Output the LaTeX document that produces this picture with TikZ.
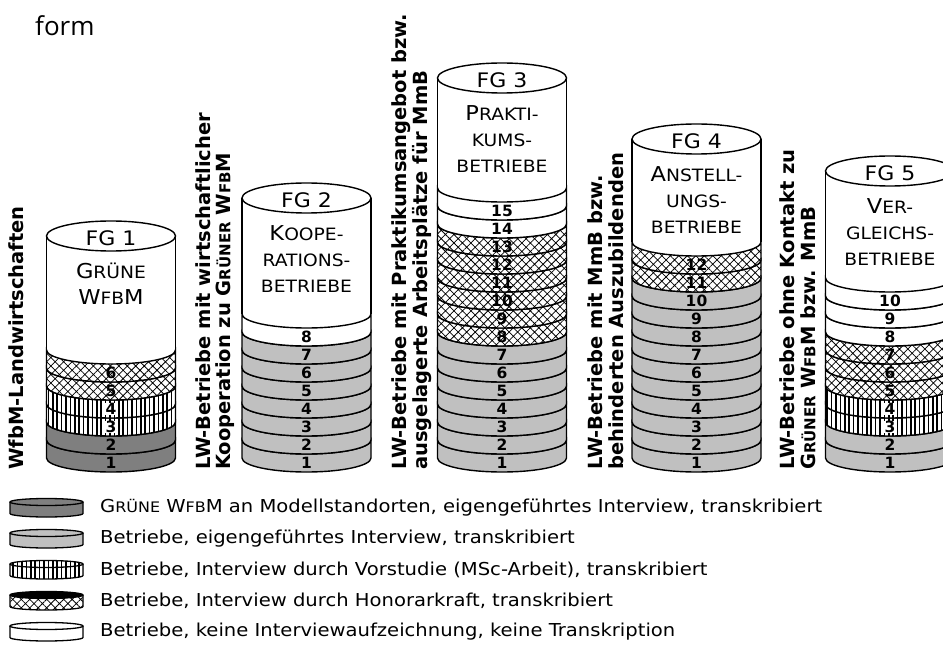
\documentclass[tikz,border=0pt]{standalone}
\usepackage{fontspec}
\setmainfont{DejaVu Sans}[FakeStretch=1.1]
\newfontfamily\labelfont{DejaVu Sans}
\newfontfamily\pagefont{Open Sans}
\usetikzlibrary{patterns.meta}

\definecolor{darkfill}{HTML}{7F7F7F}
\definecolor{lightfill}{HTML}{C0C0C0}

% small capitals imitated by a smaller size
\newcommand\sm[2]{{\fontsize{#1}{#1}\selectfont #2}}

% geometry of the stacks: half width, bottom ellipse centre, slice height, ellipse radii
\def\rx{64.5}\def\yb{458}\def\sh{18}\def\sr{14}\def\ryt{15}
\def\vlinesname{sv}

\tikzset{
  edge/.style={draw=black,line width=1.4pt},
  sd/.style={fill=darkfill},
  sl/.style={fill=lightfill},
  sv/.style={preaction={fill=white},pattern={Lines[angle=90,distance=4.4pt,line width=1.5pt]}},
  sx/.style={preaction={fill=white},pattern={Hatch[angle=45,distance=6pt,line width=0.75pt]}},
  sw/.style={fill=white},
  num/.style={font=\labelfont\bfseries\fontsize{15.5}{15.5}\selectfont,inner sep=0.6pt},
  fgtext/.style={font=\fontsize{20}{20}\selectfont,inner sep=0,anchor=base},
  ttl/.style={font=\fontsize{20.5}{20.5}\selectfont,inner sep=0,anchor=base},
  vlab/.style={rotate=90,anchor=west,inner sep=0,font=\labelfont\bfseries\fontsize{19.5}{19.5}\selectfont},
  legtext/.style={anchor=west,inner sep=0,font=\fontsize{17.8}{17.8}\selectfont},
}

% #1 name, #2 centre x, #3 top ellipse y, #4 slice count,
% #5 slice styles from bottom to top, #6 group label, #7 caption lines
\newcommand\stack[7]{%
  \pgfmathsetmacro\ytop{\yb-#4*\sh}
  \path[fill=white] (#2-\rx,\ytop) -- (#2-\rx,#3)
     arc[start angle=180,end angle=360,x radius=\rx,y radius=\ryt]
     -- (#2+\rx,\ytop)
     arc[start angle=0,end angle=180,x radius=\rx,y radius=\sr] -- cycle;
  \draw[edge] (#2-\rx,\ytop) -- (#2-\rx,#3) (#2+\rx,\ytop) -- (#2+\rx,#3);
  \draw[edge] (#2,#3) ellipse[x radius=\rx,y radius=\ryt];
  \foreach \st [count=\k] in {#5} {
    \pgfmathsetmacro\ylo{\yb-(\k-1)*\sh}
    \pgfmathsetmacro\yhi{\yb-\k*\sh}
    \path[\st] (#2-\rx,\ylo)
       arc[start angle=180,end angle=0,x radius=\rx,y radius=\sr]
       -- (#2+\rx,\yhi)
       arc[start angle=0,end angle=180,x radius=\rx,y radius=\sr] -- cycle;
    \draw[edge] (#2-\rx,\ylo)
       arc[start angle=180,end angle=0,x radius=\rx,y radius=\sr]
       -- (#2+\rx,\yhi)
       arc[start angle=0,end angle=180,x radius=\rx,y radius=\sr] -- cycle;
    \edef\cur{\st}%
    \ifx\cur\vlinesname
      \node[num,fill=white] (#1-n\k) at (#2,{\yhi+\sr+\sh/2}) {\k};
    \else
      \node[num] (#1-n\k) at (#2,{\yhi+\sr+\sh/2}) {\k};
    \fi
  }
  \node[fgtext] (#1-fg) at (#2,#3+10) {#6};
  \foreach \ln [count=\j] in {#7} {
    \node[ttl] (#1-t\j) at (#2,{#3+16.5+26*\j}) {\ln};
  }
}

% #1 name, #2 row y, #3 style
\newcommand\legendicon[3]{%
  \path[#3] (10,#2-6) -- (10,#2+5.5)
     arc[start angle=180,end angle=0,x radius=36.5,y radius=3.5]
     -- (83,#2-6)
     arc[start angle=0,end angle=-180,x radius=36.5,y radius=3.5] -- cycle;
  \draw[edge,line width=1.3pt] (10,#2-6) -- (10,#2+5.5)
     arc[start angle=180,end angle=0,x radius=36.5,y radius=3.5]
     -- (83,#2-6);
  \draw[edge,line width=1.3pt] (46.5,#2-6) ellipse[x radius=36.5,y radius=3.5];
  \coordinate (#1) at (46.5,#2);
}

\begin{document}
\begin{tikzpicture}[x=1pt,y=-1pt]
  \useasboundingbox (0,0) rectangle (943,663);
  \clip (0,0) rectangle (943,663);

  \node[anchor=base west,inner sep=0,font=\pagefont\fontsize{26}{26}\selectfont] (word) at (35,36) {form};

  % group labels
  \node[vlab] (g1)  at (16,470)  {WfbM-Landwirtschaften};
  \node[vlab] (g2a) at (203,470) {LW-Betriebe mit wirtschaftlicher};
  \node[vlab] (g2b) at (225,470) {Kooperation zu G\sm{15}{RÜNER} W\sm{15}{FB}M};
  \node[vlab] (g3a) at (401,470) {LW-Betriebe mit Praktikumsangebot bzw.};
  \node[vlab] (g3b) at (422,470) {ausgelagerte Arbeitsplätze für MmB};
  \node[vlab] (g4a) at (595,470) {LW-Betriebe mit MmB bzw.};
  \node[vlab] (g4b) at (616,470) {behinderten Auszubildenden};
  \node[vlab] (g5a) at (787,470) {LW-Betriebe ohne Kontakt zu};
  \node[vlab] (g5b) at (808,470) {G\sm{15}{RÜNER} W\sm{15}{FB}M bzw. MmB};

  % stacks
  \stack{fg1}{111}{236}{6}{sd,sd,sv,sv,sx,sx}{FG 1}{G\sm{17}{RÜNE},W\sm{17}{FB}M}
  \stack{fg2}{306.5}{198}{8}{sl,sl,sl,sl,sl,sl,sl,sw}{FG 2}{K\sm{17}{OOPE-},\sm{17}{RATIONS-},\sm{17}{BETRIEBE}}
  \stack{fg3}{502}{78}{15}{sl,sl,sl,sl,sl,sl,sl,sx,sx,sx,sx,sx,sx,sw,sw}{FG 3}{P\sm{17}{RAKTI-},\sm{17}{KUMS-},\sm{17}{BETRIEBE}}
  \stack{fg4}{696.5}{139}{12}{sl,sl,sl,sl,sl,sl,sl,sl,sl,sl,sx,sx}{FG 4}{A\sm{17}{NSTELL-},\sm{17}{UNGS-},\sm{17}{BETRIEBE}}
  \stack{fg5}{890}{171}{10}{sl,sl,sv,sv,sx,sx,sx,sw,sw,sw}{FG 5}{V\sm{17}{ER-},\sm{17}{GLEICHS-},\sm{17}{BETRIEBE}}

  % legend
  \legendicon{i1}{508}{sd}
  \legendicon{i2}{539}{sl}
  \legendicon{i3}{570}{sv}
  \legendicon{i4}{601}{sx}
  \fill[black] (46.5,595) ellipse[x radius=36.5,y radius=3.5];
  \legendicon{i5}{632}{sw}
  \node[legtext] (l1) at (100,508) {G\sm{14.5}{RÜNE} W\sm{14.5}{FB}M an Modellstandorten, eigengeführtes Interview, transkribiert};
  \node[legtext] (l2) at (100,539) {Betriebe, eigengeführtes Interview, transkribiert};
  \node[legtext] (l3) at (100,570) {Betriebe, Interview durch Vorstudie (MSc-Arbeit), transkribiert};
  \node[legtext] (l4) at (100,601) {Betriebe, Interview durch Honorarkraft, transkribiert};
  \node[legtext] (l5) at (100,632) {Betriebe, keine Interviewaufzeichnung, keine Transkription};
\end{tikzpicture}
\end{document}
